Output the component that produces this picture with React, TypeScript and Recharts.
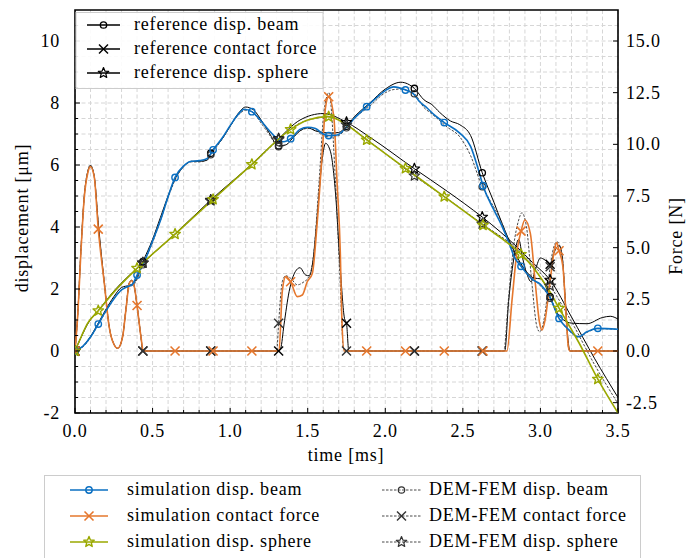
import React from 'react';
import { ComposedChart, Line, XAxis, YAxis, CartesianGrid, ReferenceArea } from 'recharts';

type Pt = [number, number];

// ---------- data (time [ms], value) ----------
const simBeam: Pt[] = [[0,0],[0.05,0.15],[0.1,0.45],[0.15,0.87],[0.2,1.3],[0.25,1.68],[0.3,1.97],[0.34,2.08],[0.37,2.15],[0.4,2.45],[0.45,2.92],[0.5,3.55],[0.55,4.2],[0.6,4.98],[0.645,5.6],[0.7,5.97],[0.75,6.12],[0.8,6.14],[0.85,6.2],[0.89,6.49],[0.95,6.88],[1.0,7.27],[1.05,7.62],[1.09,7.8],[1.14,7.72],[1.2,7.42],[1.25,7.12],[1.3,6.86],[1.345,6.75],[1.39,6.85],[1.45,7.15],[1.5,7.22],[1.55,7.18],[1.6,7.0],[1.635,6.95],[1.69,6.97],[1.75,7.22],[1.8,7.5],[1.88,7.88],[1.95,8.2],[2.0,8.4],[2.055,8.52],[2.13,8.42],[2.18,8.3],[2.22,8.05],[2.26,7.88],[2.32,7.6],[2.38,7.37],[2.48,7.03],[2.55,6.6],[2.6,5.85],[2.63,5.33],[2.7,4.55],[2.75,4.05],[2.8,3.45],[2.83,3.05],[2.875,2.73],[2.95,2.3],[3.0,2.15],[3.06,1.75],[3.12,1.05],[3.18,0.7],[3.245,0.46],[3.3,0.62],[3.37,0.73],[3.5,0.7]];
const refBeam: Pt[] = [[0,0],[0.05,0.15],[0.1,0.47],[0.15,0.9],[0.2,1.35],[0.25,1.75],[0.3,2.05],[0.35,2.12],[0.38,2.2],[0.4375,2.88],[0.5,3.6],[0.55,4.3],[0.6,5.0],[0.65,5.6],[0.7,5.95],[0.75,6.12],[0.8,6.12],[0.85,6.15],[0.875,6.38],[0.95,6.85],[1.0,7.25],[1.05,7.65],[1.1,7.87],[1.15,7.78],[1.2,7.45],[1.25,7.05],[1.3125,6.62],[1.36,6.65],[1.4,6.85],[1.45,7.1],[1.5,7.2],[1.55,7.1],[1.6,7.05],[1.65,7.03],[1.7,7.05],[1.75,7.25],[1.8,7.55],[1.9,8.0],[2.0,8.45],[2.1,8.67],[2.1875,8.47],[2.25,8.1],[2.3,7.95],[2.35,7.7],[2.42,7.42],[2.48,7.3],[2.55,6.95],[2.625,5.75],[2.7,4.8],[2.75,4.15],[2.8,3.55],[2.87,2.85],[2.92,2.5],[2.96,2.35],[3.0,2.33],[3.0625,1.75],[3.1,1.3],[3.15,1.0],[3.2,0.9],[3.3,0.88],[3.4,1.08],[3.45,1.12],[3.5,1.03]];
const demBeam: Pt[] = [[0,0],[0.05,0.13],[0.1,0.43],[0.15,0.86],[0.2,1.28],[0.25,1.68],[0.3,1.98],[0.35,2.08],[0.38,2.15],[0.4375,2.78],[0.5,3.5],[0.55,4.2],[0.6,4.95],[0.65,5.57],[0.7,5.95],[0.75,6.1],[0.8,6.1],[0.85,6.15],[0.875,6.33],[0.95,6.85],[1.0,7.25],[1.05,7.6],[1.1,7.77],[1.15,7.68],[1.2,7.35],[1.25,7.0],[1.3125,6.59],[1.36,6.65],[1.4,6.85],[1.45,7.1],[1.5,7.18],[1.55,7.12],[1.6,6.95],[1.65,6.9],[1.7,6.95],[1.75,7.2],[1.8,7.5],[1.9,7.9],[2.0,8.33],[2.05,8.43],[2.1,8.45],[2.1875,8.3],[2.25,7.85],[2.3,7.65],[2.4,7.22],[2.48,6.91],[2.55,6.3],[2.625,5.3],[2.67,4.9],[2.75,4.15],[2.8,3.5],[2.87,2.8],[2.95,2.35],[3.0,2.1],[3.0625,1.7],[3.12,1.05],[3.18,0.68],[3.245,0.45],[3.3,0.6],[3.37,0.72],[3.5,0.7]];

const simForce: Pt[] = [[0,0],[0.017,1.66],[0.039,4.9],[0.06,7.46],[0.082,8.6],[0.099,8.92],[0.124,8.43],[0.15,5.9],[0.189,3.27],[0.22,1.18],[0.253,0.29],[0.275,0.13],[0.307,0.69],[0.328,1.98],[0.35,3.27],[0.365,3.4],[0.38,3.2],[0.4,2.2],[0.425,0.69],[0.44,0],[0.645,0],[0.89,0],[1.14,0],[1.315,0],[1.336,2.87],[1.358,3.6],[1.39,3.35],[1.433,2.63],[1.465,2.71],[1.497,3.35],[1.53,3.76],[1.56,6.1],[1.594,9.64],[1.615,11.8],[1.635,12.3],[1.669,11.26],[1.69,8.03],[1.71,4.8],[1.72,1.58],[1.735,0],[1.88,0],[2.13,0],[2.38,0],[2.63,0],[2.784,0],[2.817,2.47],[2.85,4.89],[2.875,5.8],[2.9,6.34],[2.935,5.69],[2.967,3.27],[2.995,1.34],[3.01,1.02],[3.03,1.5],[3.063,3.43],[3.09,4.89],[3.105,5.25],[3.12,4.85],[3.145,4.08],[3.166,1.66],[3.18,0.21],[3.19,0],[3.37,0],[3.5,0]];
const refForce: Pt[] = [[0,0],[0.017,1.7],[0.039,5.0],[0.06,7.5],[0.082,8.65],[0.099,8.97],[0.124,8.45],[0.15,6.2],[0.189,3.3],[0.22,1.2],[0.253,0.3],[0.275,0.13],[0.307,0.7],[0.328,2.0],[0.35,3.3],[0.365,3.42],[0.38,3.2],[0.4,2.2],[0.425,0.69],[0.4375,0],[0.875,0],[1.3125,0],[1.326,0.13],[1.347,1.26],[1.38,2.87],[1.42,3.84],[1.45,4.03],[1.486,3.68],[1.51,3.64],[1.53,4.16],[1.56,6.42],[1.594,9.32],[1.615,10.05],[1.647,9.64],[1.68,7.55],[1.71,4.0],[1.737,1.58],[1.75,1.34],[1.765,0],[2.1875,0],[2.625,0],[2.77,0],[2.795,2.4],[2.827,4.4],[2.86,5.4],[2.885,4.5],[2.91,3.8],[2.94,3.35],[2.97,4.0],[3.0,4.5],[3.03,4.4],[3.0625,4.2],[3.09,4.8],[3.12,5.1],[3.14,4.6],[3.16,2.5],[3.175,0.8],[3.19,0],[3.5,0]];
const demForce: Pt[] = [[0,0],[0.017,1.7],[0.039,5.0],[0.06,7.55],[0.082,8.7],[0.099,9.0],[0.124,8.45],[0.15,6.1],[0.189,3.3],[0.22,1.2],[0.253,0.3],[0.275,0.13],[0.307,0.7],[0.328,2.0],[0.35,3.3],[0.365,3.42],[0.38,3.2],[0.4,2.2],[0.425,0.69],[0.4375,0],[0.875,0],[1.3,0],[1.3125,1.34],[1.336,3.35],[1.358,3.64],[1.39,3.52],[1.433,3.2],[1.476,3.35],[1.51,3.6],[1.54,4.8],[1.572,8.03],[1.605,11.58],[1.637,12.5],[1.68,8.03],[1.71,3.2],[1.73,0.13],[1.75,0],[2.1875,0],[2.625,0],[2.763,0],[2.795,2.6],[2.827,5.05],[2.86,6.34],[2.88,6.69],[2.91,6.01],[2.945,3.27],[2.977,1.18],[2.995,0.93],[3.03,1.82],[3.0625,4.08],[3.095,5.21],[3.106,5.29],[3.138,4.73],[3.16,2.47],[3.18,0.2],[3.19,0],[3.5,0]];

const simSphere: Pt[] = [[0,0],[0.04,0.46],[0.08,0.88],[0.15,1.3],[0.25,1.9],[0.4,2.67],[0.645,3.77],[0.89,4.89],[1.14,6.02],[1.39,7.15],[1.5,7.45],[1.635,7.56],[1.75,7.3],[1.88,6.81],[2.13,5.89],[2.38,4.98],[2.63,4.06],[2.875,3.12],[2.95,2.72],[3.0,2.38],[3.06,1.92],[3.12,1.38],[3.25,0.25],[3.37,-0.91],[3.5,-2.0]];
const refSphere: Pt[] = [[0,0],[0.04,0.45],[0.08,0.86],[0.15,1.3],[0.25,1.93],[0.4375,2.84],[0.65,3.8],[0.875,4.87],[1.14,6.03],[1.3125,6.85],[1.45,7.45],[1.6,7.66],[1.75,7.38],[1.9,6.9],[2.1875,5.88],[2.4,5.15],[2.625,4.32],[2.74,3.85],[2.85,3.35],[2.95,2.85],[3.0625,2.29],[3.2,1.1],[3.35,-0.25],[3.5,-1.5]];
const demSphere: Pt[] = [[0,0],[0.04,0.45],[0.08,0.87],[0.15,1.3],[0.25,1.9],[0.4375,2.85],[0.65,3.78],[0.875,4.85],[1.14,6.0],[1.3125,6.82],[1.45,7.35],[1.635,7.55],[1.75,7.3],[1.88,6.83],[2.1875,5.65],[2.38,4.98],[2.625,4.1],[2.875,3.18],[3.0625,2.1],[3.2,0.95],[3.35,-0.45],[3.5,-1.7]];

// marker sample times
const simMarkT = [0, 0.15, 0.4, 0.645, 0.89, 1.14, 1.39, 1.635, 1.88, 2.13, 2.38, 2.63, 2.875, 3.12, 3.37];
const refMarkT = [0, 0.4375, 0.875, 1.3125, 1.75, 2.1875, 2.625, 3.0625];

// ticks
const xTicks = [0,0.1,0.2,0.3,0.4,0.5,0.6,0.7,0.8,0.9,1,1.1,1.2,1.3,1.4,1.5,1.6,1.7,1.8,1.9,2,2.1,2.2,2.3,2.4,2.5,2.6,2.7,2.8,2.9,3,3.1,3.2,3.3,3.4,3.5];
const xLabelTicks = [0, 0.5, 1, 1.5, 2, 2.5, 3, 3.5];
const yLeftTicks = [-2,-1.5,-1,-0.5,0,0.5,1,1.5,2,2.5,3,3.5,4,4.5,5,5.5,6,6.5,7,7.5,8,8.5,9,9.5,10,10.5];
const yLeftLabelTicks = [-2, 0, 2, 4, 6, 8, 10];
const yRightTicks = [-2.5, 0, 2.5, 5, 7.5, 10, 12.5, 15];

const FONT = '"Liberation Serif", "Times New Roman", serif';
const FS = 18;
const LS = 0.8;
const BLUE = '#0a6fc2';
const ORANGE = '#e5772d';
const OLIVE = '#9aa800';

type Kind = 'circle' | 'x' | 'star';

function Marker({ kind, cx, cy, color, sw }: { kind: Kind; cx: number; cy: number; color: string; sw: number }) {
  if (kind === 'circle') return <circle cx={cx} cy={cy} r={3.2} fill="none" stroke={color} strokeWidth={sw} />;
  if (kind === 'x') {
    const s = 4.5;
    return (
      <g stroke={color} strokeWidth={sw}>
        <line x1={cx - s} y1={cy - s} x2={cx + s} y2={cy + s} />
        <line x1={cx - s} y1={cy + s} x2={cx + s} y2={cy - s} />
      </g>
    );
  }
  const pts: string[] = [];
  for (let i = 0; i < 10; i++) {
    const r = i % 2 === 0 ? 5.5 : 2.4;
    const a = -Math.PI / 2 + (i * Math.PI) / 5;
    pts.push(`${cx + r * Math.cos(a)},${cy + r * Math.sin(a)}`);
  }
  return <polygon points={pts.join(' ')} fill="none" stroke={color} strokeWidth={sw} strokeLinejoin="round" />;
}

interface Series {
  id: string;
  pts: Pt[];
  axis: 'L' | 'R';
  color: string;
  width: number;
  dash?: string;
  kind: Kind;
  times: number[];
  msw: number;
}

const series: Series[] = [
  { id: 'refBeam', pts: refBeam, axis: 'L', color: '#000', width: 1, kind: 'circle', times: refMarkT, msw: 1.3 },
  { id: 'refForce', pts: refForce, axis: 'R', color: '#000', width: 1, kind: 'x', times: refMarkT, msw: 1.4 },
  { id: 'refSphere', pts: refSphere, axis: 'L', color: '#000', width: 1, kind: 'star', times: refMarkT, msw: 1.2 },
  { id: 'demBeam', pts: demBeam, axis: 'L', color: '#333', width: 0.9, dash: '2.5 1.5', kind: 'circle', times: refMarkT, msw: 1.2 },
  { id: 'demForce', pts: demForce, axis: 'R', color: '#333', width: 0.9, dash: '2.5 1.5', kind: 'x', times: refMarkT, msw: 1.4 },
  { id: 'demSphere', pts: demSphere, axis: 'L', color: '#333', width: 0.9, dash: '2.5 1.5', kind: 'star', times: refMarkT, msw: 1.2 },
  { id: 'simForce', pts: simForce, axis: 'R', color: ORANGE, width: 1.6, kind: 'x', times: simMarkT, msw: 1.6 },
  { id: 'simBeam', pts: simBeam, axis: 'L', color: BLUE, width: 1.6, kind: 'circle', times: simMarkT, msw: 1.4 },
  { id: 'simSphere', pts: simSphere, axis: 'L', color: OLIVE, width: 1.6, kind: 'star', times: simMarkT, msw: 1.4 },
];

const toData = (pts: Pt[]) => pts.map(([t, v]) => ({ t, v }));

const makeDot = (s: Series) => (props: any) => {
  const { cx, cy, payload, index } = props;
  const show = payload && s.times.some((t) => Math.abs(t - payload.t) < 1e-9);
  if (!show || cx == null || cy == null) return <g key={`${s.id}-${index}`} />;
  return (
    <g key={`${s.id}-${index}`}>
      <Marker kind={s.kind} cx={cx} cy={cy} color={s.color} sw={s.msw} />
    </g>
  );
};

const isIn = (arr: number[], v: number) => arr.some((a) => Math.abs(a - v) < 1e-6);

const XTick = (props: any) => {
  const { x, y, payload } = props;
  const major = isIn(xLabelTicks, payload.value);
  return (
    <g>
      <line x1={x} x2={x} y1={y} y2={y - (major ? 5 : 3)} stroke="#000" strokeWidth={1} />
      {major && (
        <text x={x} y={y + 24} textAnchor="middle" fontFamily={FONT} fontSize={FS} fill="#000" style={{ letterSpacing: LS }}>
          {Number(payload.value).toFixed(1)}
        </text>
      )}
    </g>
  );
};

const LTick = (props: any) => {
  const { x, y, payload } = props;
  const major = isIn(yLeftLabelTicks, payload.value);
  return (
    <g>
      <line x1={x} x2={x + (major ? 5 : 3)} y1={y} y2={y} stroke="#000" strokeWidth={1} />
      {major && (
        <text x={x - 15} y={y + 6} textAnchor="end" fontFamily={FONT} fontSize={FS} fill="#000" style={{ letterSpacing: LS }}>
          {String(payload.value)}
        </text>
      )}
    </g>
  );
};

const RTick = (props: any) => {
  const { x, y, payload } = props;
  return (
    <g>
      <line x1={x} x2={x - 5} y1={y} y2={y} stroke="#000" strokeWidth={1} />
      <text x={x + 8} y={y + 6} textAnchor="start" fontFamily={FONT} fontSize={FS} fill="#000" style={{ letterSpacing: LS }}>
        {Number(payload.value).toFixed(1)}
      </text>
    </g>
  );
};

const LegendSample = ({ x1, x2, y, s }: { x1: number; x2: number; y: number; s: Series }) => (
  <g>
    <line x1={x1} x2={x2} y1={y} y2={y} stroke={s.color} strokeWidth={s.width === 1 ? 1.6 : s.width} strokeDasharray={s.dash} />
    <Marker kind={s.kind} cx={(x1 + x2) / 2} cy={y} color={s.color} sw={s.msw} />
  </g>
);

const legendText = (x: number, y: number, txt: string) => (
  <text x={x} y={y + 5} fontFamily={FONT} fontSize={FS} fill="#000" style={{ letterSpacing: LS }}>
    {txt}
  </text>
);

export default function App() {
  const byId = (id: string) => series.find((s) => s.id === id)!;
  return (
    <div style={{ position: 'absolute', left: 0, top: 0, width: 686, height: 558, background: '#fff', overflow: 'hidden' }}>
      <ComposedChart width={686} height={558} margin={{ top: 10, right: 0, bottom: 110, left: 0 }}>
        <CartesianGrid
          xAxisId="x"
          yAxisId="L"
          horizontalValues={yLeftTicks}
          verticalValues={xTicks}
          stroke="#d6d6d6"
          strokeDasharray="4 2.5"
          strokeWidth={1}
        />
        <XAxis
          xAxisId="x"
          dataKey="t"
          type="number"
          domain={[0, 3.5]}
          ticks={xTicks}
          interval={0}
          allowDataOverflow
          height={35}
          axisLine={false}
          tickLine={false}
          tickSize={0}
          tickMargin={0}
          tick={XTick}
        />
        <YAxis
          yAxisId="L"
          orientation="left"
          type="number"
          domain={[-2, 11]}
          ticks={yLeftTicks}
          interval={0}
          allowDataOverflow
          width={75}
          axisLine={false}
          tickLine={false}
          tickSize={0}
          tickMargin={0}
          tick={LTick}
        />
        <YAxis
          yAxisId="R"
          orientation="right"
          type="number"
          domain={[-3, 16.5]}
          ticks={yRightTicks}
          interval={0}
          allowDataOverflow
          width={68}
          axisLine={false}
          tickLine={false}
          tickSize={0}
          tickMargin={0}
          tick={RTick}
        />
        {series.map((s) => (
          <Line
            key={s.id}
            xAxisId="x"
            yAxisId={s.axis}
            data={toData(s.pts)}
            dataKey="v"
            type="monotone"
            stroke={s.color}
            strokeWidth={s.width}
            strokeDasharray={s.dash}
            dot={makeDot(s)}
            activeDot={false}
            isAnimationActive={false}
          />
        ))}
        <ReferenceArea
          xAxisId="x"
          yAxisId="L"
          x1={0}
          x2={3.5}
          y1={-2}
          y2={11}
          fill="none"
          fillOpacity={0}
          stroke="#000"
          strokeWidth={1.6}
          ifOverflow="visible"
        />
      </ComposedChart>

      <svg width={686} height={558} style={{ position: 'absolute', left: 0, top: 0, pointerEvents: 'none' }}>
        {/* axis titles */}
        <text x={346} y={461} textAnchor="middle" fontFamily={FONT} fontSize={FS} style={{ letterSpacing: LS }}>time [ms]</text>
        <text transform="translate(28,218) rotate(-90)" textAnchor="middle" fontFamily={FONT} fontSize={FS} style={{ letterSpacing: LS }}>displacement [μm]</text>
        <text transform="translate(682,236) rotate(-90)" textAnchor="middle" fontFamily={FONT} fontSize={FS} style={{ letterSpacing: LS }}>Force [N]</text>

        {/* top-left legend */}
        <rect x={76} y={12.5} width={247} height={76} fill="#fff" fillOpacity={0.9} stroke="#cccccc" strokeWidth={1} />
        <LegendSample x1={87} x2={120} y={25} s={byId('refBeam')} />
        {legendText(134, 25, 'reference disp. beam')}
        <LegendSample x1={87} x2={120} y={49} s={byId('refForce')} />
        {legendText(134, 49, 'reference contact force')}
        <LegendSample x1={87} x2={120} y={73} s={byId('refSphere')} />
        {legendText(134, 73, 'reference disp. sphere')}

        {/* bottom legend */}
        <rect x={44.5} y={475.5} width={596} height={90} fill="#fff" stroke="#cccccc" strokeWidth={1} />
        <LegendSample x1={70} x2={108} y={490} s={byId('simBeam')} />
        {legendText(127, 490, 'simulation disp. beam')}
        <LegendSample x1={70} x2={108} y={516} s={byId('simForce')} />
        {legendText(127, 516, 'simulation contact force')}
        <LegendSample x1={70} x2={108} y={542} s={byId('simSphere')} />
        {legendText(127, 542, 'simulation disp. sphere')}
        <LegendSample x1={382} x2={421} y={490} s={byId('demBeam')} />
        {legendText(429, 490, 'DEM-FEM disp. beam')}
        <LegendSample x1={382} x2={421} y={516} s={byId('demForce')} />
        {legendText(429, 516, 'DEM-FEM contact force')}
        <LegendSample x1={382} x2={421} y={542} s={byId('demSphere')} />
        {legendText(429, 542, 'DEM-FEM disp. sphere')}
      </svg>
    </div>
  );
}
